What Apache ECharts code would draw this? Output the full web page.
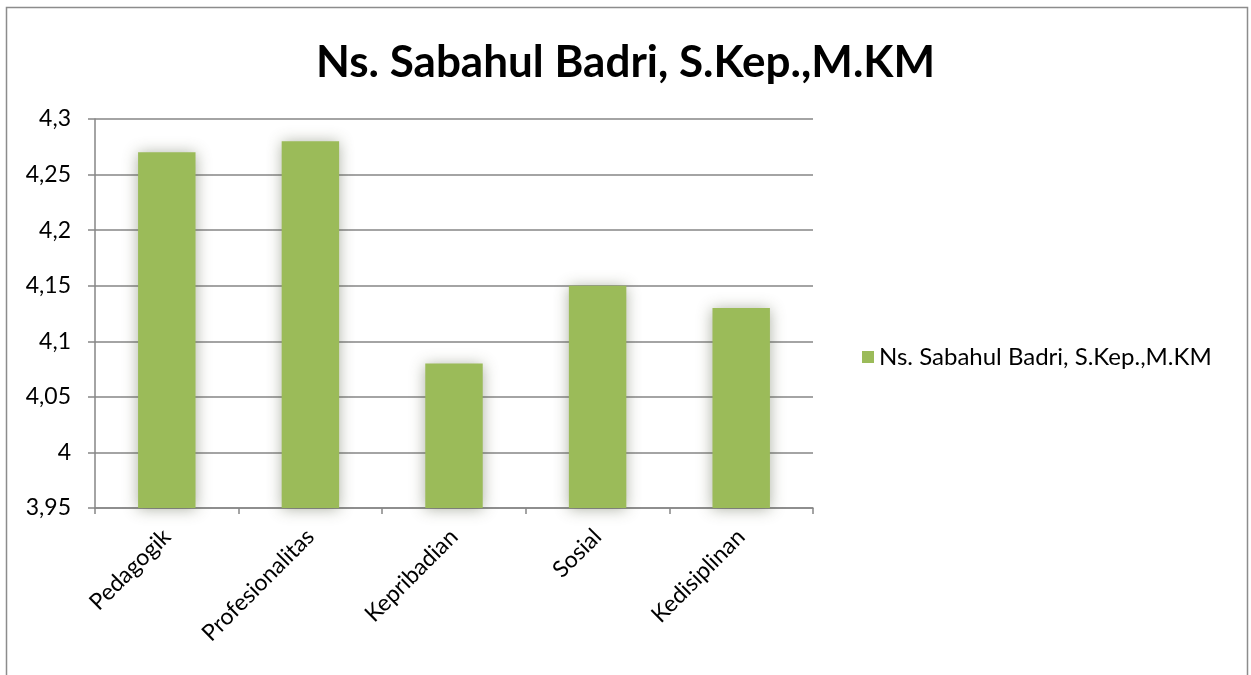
<!DOCTYPE html>
<html>
<head>
<meta charset="utf-8">
<script src="https://cdn.jsdelivr.net/npm/echarts@6/dist/echarts.min.js"></script>
<style>
  html, body { margin: 0; padding: 0; background: #fff; }
  #chart { width: 1251px; height: 675px; }
</style>
</head>
<body>
<div id="chart"></div>
<script>
var seriesName = 'Ns. Sabahul Badri, S.Kep.,M.KM';
var categories = ['Pedagogik', 'Profesionalitas', 'Kepribadian', 'Sosial', 'Kedisiplinan'];
var scores = [4.27, 4.28, 4.08, 4.15, 4.13];

var font = 'Lato, "Open Sans", sans-serif';

function komma(v) {
    return String(Math.round(v * 100) / 100).replace('.', ',');
}

var option = {
    animation: false,
    title: {
        text: seriesName,
        left: 'center',
        top: 36,
        textStyle: { fontFamily: font, fontSize: 44, fontWeight: 'bold', color: '#000' }
    },
    legend: {
        orient: 'vertical',
        left: 857,
        top: 340,
        itemWidth: 12,
        itemHeight: 12,
        itemGap: 6,
        icon: 'rect',
        textStyle: { fontFamily: font, fontSize: 24, color: '#000' },
        data: [seriesName]
    },
    grid: { left: 95, right: 438, top: 119, bottom: 167 },
    xAxis: {
        type: 'category',
        data: categories,
        axisLine: { lineStyle: { color: '#868686', width: 1.5 } },
        axisTick: { show: true, length: 6, lineStyle: { color: '#868686', width: 1.5 } },
        axisLabel: { rotate: 45, margin: 25, fontFamily: font, fontSize: 23, color: '#000' }
    },
    yAxis: {
        type: 'value',
        min: 3.95,
        max: 4.3,
        interval: 0.05,
        axisLine: { show: true, lineStyle: { color: '#868686', width: 1.5 } },
        axisTick: { show: true, length: 7, lineStyle: { color: '#868686', width: 1.5 } },
        splitLine: { lineStyle: { color: '#868686', width: 1.5 } },
        axisLabel: { margin: 24, fontFamily: font, fontSize: 23, color: '#000', formatter: komma }
    },
    series: [
        {
            name: seriesName,
            type: 'bar',
            barWidth: '40%',
            data: scores,
            itemStyle: {
                color: '#9BBB59',
                shadowColor: 'rgba(70,80,50,0.45)',
                shadowBlur: 14,
                shadowOffsetX: 0,
                shadowOffsetY: 1
            }
        }
    ],
    graphic: [
        {
            type: 'rect',
            shape: { x: 6.5, y: 7.5, width: 1241, height: 720 },
            style: { fill: 'none', stroke: '#8c8c8c', lineWidth: 1.5 },
            silent: true
        }
    ]
};
echarts.init(document.getElementById('chart')).setOption(option);
</script>
</body>
</html>
